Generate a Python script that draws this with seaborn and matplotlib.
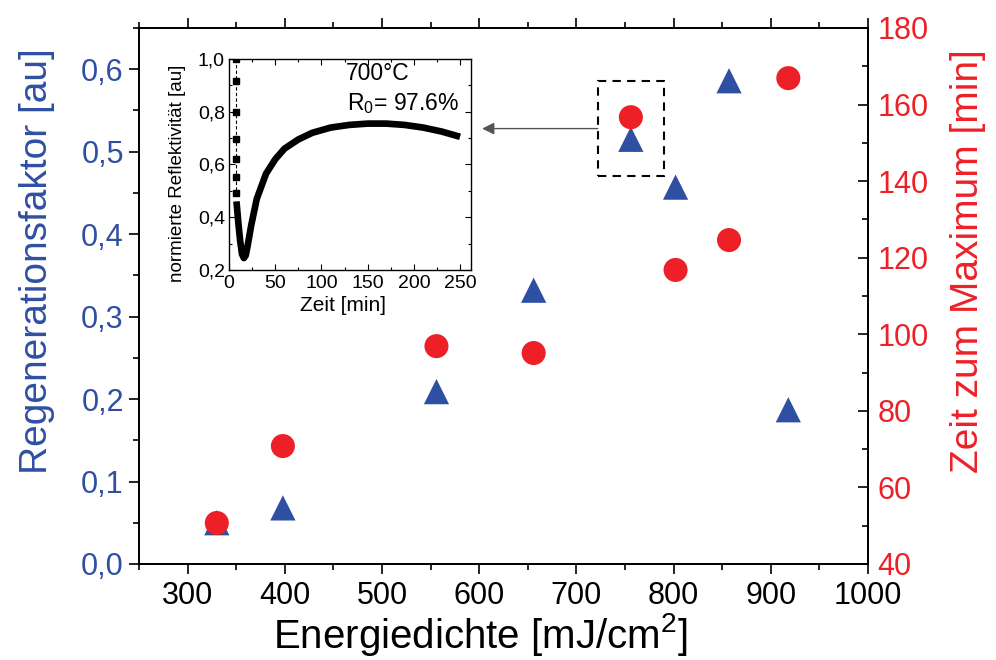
import matplotlib
matplotlib.use("Agg")
import matplotlib.pyplot as plt
import seaborn as sns
import pandas as pd
from matplotlib.patches import Rectangle
from matplotlib.ticker import MultipleLocator, FuncFormatter

# ---- data ----
energie = [330, 398, 556, 656, 756, 802, 857, 918]
regen = [0.050, 0.068, 0.209, 0.332, 0.515, 0.457, 0.586, 0.187]
zeit_max = [50.7, 70.8, 96.9, 95.1, 156.7, 116.8, 124.6, 166.9]

inset_t_drop = [7, 7, 7, 7, 7, 7, 7]
inset_r_drop = [1.0, 0.917, 0.80, 0.698, 0.621, 0.553, 0.493]
inset_t = [8, 9, 10, 12, 14, 16, 18, 20, 24, 30, 40, 50, 60, 75, 90, 110, 130, 150, 170, 190, 210, 230, 250]
inset_r = [0.46, 0.42, 0.38, 0.31, 0.26, 0.245, 0.255, 0.29, 0.37, 0.47, 0.565, 0.62, 0.66, 0.695, 0.72, 0.74, 0.75, 0.755, 0.755, 0.75, 0.74, 0.725, 0.705]

BLUE = "#2F4FA2"
RED = "#EE2027"

sns.set_style("ticks")
plt.rcParams['font.family'] = ['Liberation Sans', 'DejaVu Sans']
plt.rcParams['mathtext.fontset'] = 'custom'
plt.rcParams['mathtext.rm'] = 'Liberation Sans'
plt.rcParams['mathtext.it'] = 'Liberation Sans'
plt.rcParams['text.color'] = 'black'
plt.rcParams['axes.labelcolor'] = 'black'
plt.rcParams['xtick.color'] = 'black'
plt.rcParams['ytick.color'] = 'black'

fig = plt.figure(figsize=(9.96, 6.6), dpi=100)
ax = fig.add_axes([0.1396, 0.1455, 0.7319, 0.8121])
ax2 = ax.twinx()

df = pd.DataFrame({"E": energie, "R": regen, "T": zeit_max})
sns.scatterplot(data=df, x="E", y="R", ax=ax, marker="^", s=330, color=BLUE,
                edgecolor="none", zorder=3)
sns.scatterplot(data=df, x="E", y="T", ax=ax2, marker="o", s=300, color=RED,
                edgecolor="none", zorder=3)

comma = FuncFormatter(lambda v, p: f"{v:.1f}".replace(".", ","))

ax.set_xlim(250, 1000)
ax.set_ylim(0, 0.65)
ax2.set_ylim(40, 180)
ax.xaxis.set_major_locator(MultipleLocator(100))
ax.xaxis.set_minor_locator(MultipleLocator(50))
ax.yaxis.set_major_locator(MultipleLocator(0.1))
ax.yaxis.set_minor_locator(MultipleLocator(0.05))
ax.yaxis.set_major_formatter(comma)
ax2.yaxis.set_major_locator(MultipleLocator(20))
ax2.yaxis.set_minor_locator(MultipleLocator(10))

ax.tick_params(axis="x", which="major", direction="out", length=7, width=1.2,
               labelsize=22, top=True, pad=5, labelcolor="black")
ax.tick_params(axis="x", which="minor", direction="out", length=4, width=1.2, top=True)
ax.tick_params(axis="y", which="major", direction="out", length=7, width=1.2,
               labelsize=22, labelcolor=BLUE, pad=4)
ax.tick_params(axis="y", which="minor", direction="out", length=4, width=1.2)
ax2.tick_params(axis="y", which="major", direction="in", length=7, width=1.2,
                labelsize=22, labelcolor=RED, pad=7)
ax2.tick_params(axis="y", which="minor", direction="in", length=4, width=1.2)
for a in (ax, ax2):
    for s in a.spines.values():
        s.set_visible(True)
        s.set_linewidth(1.3)
        s.set_color("black")

ax.set_xlabel(r"Energiedichte [mJ/cm$^2$]", fontsize=29, color="black")
ax.xaxis.set_label_coords(0.468, -0.088)
ax.set_ylabel("Regenerationsfaktor [au]", fontsize=28, color=BLUE)
ax.yaxis.set_label_coords(-0.115, 0.565)
ax2.set_ylabel("Zeit zum Maximum [min]", fontsize=28, color=RED)
ax2.yaxis.set_label_coords(1.112, 0.565)

# highlight box around the point at 756
hx = energie[4]
rect = Rectangle((hx - 34, 0.471), 68, 0.115, fill=False, linestyle=(0, (4, 3)),
                 linewidth=1.5, edgecolor="black", zorder=4)
ax.add_patch(rect)
ax.annotate("", xy=(603, 0.528), xytext=(hx - 34, 0.528),
            arrowprops=dict(arrowstyle="-|>", color="#555555", lw=1.0,
                            mutation_scale=18, shrinkA=0, shrinkB=0,
                            facecolor="black"))

# ---- inset ----
ins = fig.add_axes([0.230, 0.591, 0.243, 0.3196])
ins.set_facecolor("white")
ins.plot(inset_t, inset_r, color="black", lw=4.8, solid_capstyle="butt", zorder=3)
ins.plot(inset_t_drop, inset_r_drop, color="black", lw=0.8, ls=(0, (3, 2)),
         marker="s", ms=4.5, zorder=3)
ins.set_xlim(0, 262)
ins.set_ylim(0.2, 1.0)
ins.xaxis.set_major_locator(MultipleLocator(50))
ins.xaxis.set_minor_locator(MultipleLocator(25))
ins.yaxis.set_major_locator(MultipleLocator(0.2))
ins.yaxis.set_minor_locator(MultipleLocator(0.1))
ins.yaxis.set_major_formatter(comma)
ins.tick_params(which="major", direction="in", length=4, width=0.8, labelsize=14,
                top=True, right=True, labelcolor="black")
ins.tick_params(axis="x", which="major", pad=4)
ins.tick_params(axis="y", which="major", pad=3)
ins.tick_params(which="minor", direction="in", length=2, width=0.8, top=True, right=True)
for s in ins.spines.values():
    s.set_linewidth(1.0)
    s.set_color("black")
ins.set_xlabel("Zeit [min]", fontsize=15, color="black")
ins.xaxis.set_label_coords(0.47, -0.125)
ins.set_ylabel("normierte Reflektivität [au]", fontsize=13.5, color="black")
ins.yaxis.set_label_coords(-0.178, 0.46)
ins.text(0.615, 0.93, "700°C", transform=ins.transAxes, ha="center", va="center",
         fontsize=16.5, color="black")
ins.text(0.72, 0.79, r"R$_0$= 97.6%", transform=ins.transAxes, ha="center",
         va="center", fontsize=16.5, color="black")

fig.savefig("out.png", dpi=100)
